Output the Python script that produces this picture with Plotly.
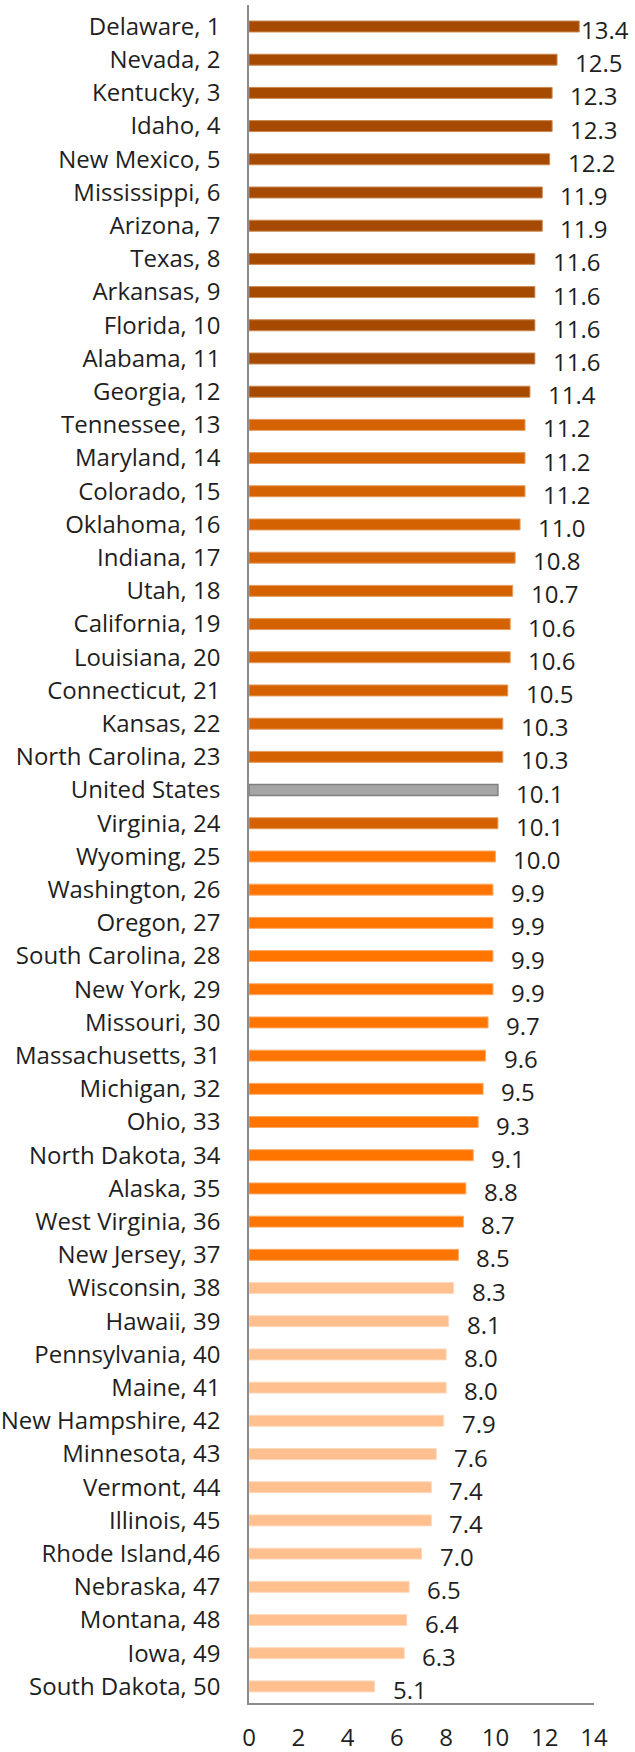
import plotly.graph_objects as go

states = ["Delaware, 1", "Nevada, 2", "Kentucky, 3", "Idaho, 4", "New Mexico, 5",
          "Mississippi, 6", "Arizona, 7", "Texas, 8", "Arkansas, 9", "Florida, 10",
          "Alabama, 11", "Georgia, 12", "Tennessee, 13", "Maryland, 14", "Colorado, 15",
          "Oklahoma, 16", "Indiana, 17", "Utah, 18", "California, 19", "Louisiana, 20",
          "Connecticut, 21", "Kansas, 22", "North Carolina, 23", "United States",
          "Virginia, 24", "Wyoming, 25", "Washington, 26", "Oregon, 27",
          "South Carolina, 28", "New York, 29", "Missouri, 30", "Massachusetts, 31",
          "Michigan, 32", "Ohio, 33", "North Dakota, 34", "Alaska, 35",
          "West Virginia, 36", "New Jersey, 37", "Wisconsin, 38", "Hawaii, 39",
          "Pennsylvania, 40", "Maine, 41", "New Hampshire, 42", "Minnesota, 43",
          "Vermont, 44", "Illinois, 45", "Rhode Island,46", "Nebraska, 47",
          "Montana, 48", "Iowa, 49", "South Dakota, 50"]

values = [13.4, 12.5, 12.3, 12.3, 12.2, 11.9, 11.9, 11.6, 11.6, 11.6, 11.6, 11.4,
          11.2, 11.2, 11.2, 11.0, 10.8, 10.7, 10.6, 10.6, 10.5, 10.3, 10.3, 10.1,
          10.1, 10.0, 9.9, 9.9, 9.9, 9.9, 9.7, 9.6, 9.5, 9.3, 9.1, 8.8, 8.7, 8.5,
          8.3, 8.1, 8.0, 8.0, 7.9, 7.6, 7.4, 7.4, 7.0, 6.5, 6.4, 6.3, 5.1]

# tier of each bar: 0 = top, 1, 2, 3 = bottom, "US" = national average
tiers = [0] * 12 + [1] * 11 + ["US"] + [1] + [2] * 13 + [3] * 13

x_ticks = [0, 2, 4, 6, 8, 10, 12, 14]

tier_fill = {0: "#A54A00", 1: "#D46200", 2: "#FF7500", 3: "#FFBF8F", "US": "#A6A6A6"}
tier_line = {0: "#C9874F", 1: "#E49A5C", 2: "#FFAA66", 3: "#FFD9BD", "US": "#7F7F7F"}
tier_lw = {0: 1, 1: 1, 2: 1, 3: 1, "US": 1.5}

FONT = "Open Sans"
FS = 24
TXT = "#1F1F1F"

fig = go.Figure()
fig.add_trace(go.Bar(
    x=values, y=states, orientation="h",
    marker=dict(color=[tier_fill[t] for t in tiers],
                line=dict(color=[tier_line[t] for t in tiers],
                          width=[tier_lw[t] for t in tiers])),
    width=0.33, hoverinfo="x+y",
))

for s, v in zip(states, values):
    fig.add_annotation(x=v, y=s, text=f"{v:.1f}", showarrow=False,
                       xanchor="left", yanchor="middle",
                       xshift=16 if v < 13 else 0, yshift=-3,
                       font=dict(family=FONT, size=FS, color=TXT))

fig.update_layout(
    width=635, height=1752,
    margin=dict(l=249, r=41, t=5, b=49),
    paper_bgcolor="white", plot_bgcolor="white",
    showlegend=False,
    font=dict(family=FONT, size=FS, color=TXT),
)
fig.update_xaxes(range=[0, 14], tickvals=x_ticks, showgrid=False, zeroline=False,
                 showline=True, linecolor="#8C8C8C", linewidth=1.5,
                 ticks="outside", ticklen=12, tickcolor="rgba(0,0,0,0)",
                 automargin=False,
                 tickfont=dict(family=FONT, size=FS, color=TXT))
fig.update_yaxes(categoryorder="array", categoryarray=states, autorange="reversed",
                 showgrid=False, showline=True, linecolor="#8C8C8C", linewidth=1.5,
                 ticks="outside", ticklen=22, tickcolor="rgba(0,0,0,0)",
                 automargin=False,
                 tickfont=dict(family=FONT, size=FS, color=TXT))

fig.write_html("out.html", config={"displayModeBar": False},
               post_script="document.body.style.margin='0';document.body.style.overflow='hidden';")
